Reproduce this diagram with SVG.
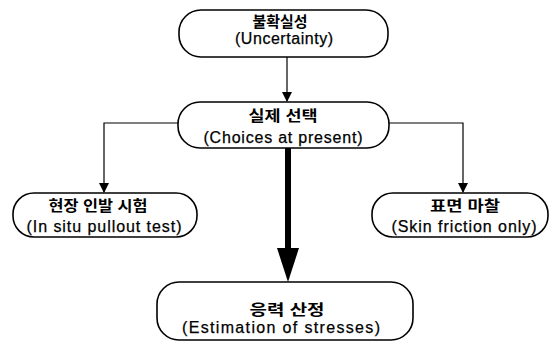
<svg xmlns="http://www.w3.org/2000/svg" width="559" height="346" viewBox="0 0 559 346">
<style>
.box{fill:#fff;stroke:#000;stroke-width:1.6}
.t{font-family:"Liberation Sans","Noto Sans CJK KR",sans-serif;font-size:16px;fill:#000;text-anchor:middle;stroke:#000;stroke-width:0.25}
.k{font-weight:bold;font-size:15px;stroke-width:0}
.ln{stroke:#000;stroke-width:1.2;fill:none}
</style>
<defs>
<marker id="ah" markerWidth="10" markerHeight="10" refX="9" refY="5" orient="auto" markerUnits="userSpaceOnUse">
<path d="M0,0 L10,5 L0,10 Z" fill="#000"/>
</marker>
</defs>
<g id="connectors">
<line class="ln" x1="287" y1="57" x2="287" y2="101" marker-end="url(#ah)"/>
<polyline class="ln" points="178,123 104,123 104,192" marker-end="url(#ah)"/>
<polyline class="ln" points="389,123 463,123 463,192" marker-end="url(#ah)"/>
<line x1="288" y1="148" x2="288" y2="250" stroke="#000" stroke-width="6"/>
<path d="M277,248 L299,248 L288,282 Z" fill="#000"/>
</g>
<g id="n1">
<rect class="box" x="179" y="10" width="209" height="47" rx="22"/>
<text class="t k" x="280" y="27" textLength="55" lengthAdjust="spacingAndGlyphs">불확실성</text>
<text class="t" x="284" y="44" textLength="98" lengthAdjust="spacing">(Uncertainty)</text>
</g>
<g id="n2">
<rect class="box" x="178" y="102" width="211" height="46" rx="22"/>
<text class="t k" x="283" y="121" textLength="69" lengthAdjust="spacingAndGlyphs">실제 선택</text>
<text class="t" x="283" y="143" textLength="159" lengthAdjust="spacing">(Choices at present)</text>
</g>
<g id="n3">
<rect class="box" x="13" y="193" width="184" height="44" rx="21"/>
<text class="t k" x="98" y="211" textLength="99" lengthAdjust="spacingAndGlyphs">현장 인발 시험</text>
<text class="t" x="104" y="232" textLength="155" lengthAdjust="spacing">(In situ pullout test)</text>
</g>
<g id="n4">
<rect class="box" x="372" y="193" width="176" height="44" rx="21"/>
<text class="t k" x="465" y="211" textLength="70" lengthAdjust="spacingAndGlyphs">표면 마찰</text>
<text class="t" x="464" y="232" textLength="145" lengthAdjust="spacing">(Skin friction only)</text>
</g>
<g id="n5">
<rect class="box" x="157" y="282" width="256" height="58" rx="22"/>
<text class="t k" x="287" y="315" textLength="75" lengthAdjust="spacingAndGlyphs">응력 산정</text>
<text class="t" x="281" y="333" textLength="198" lengthAdjust="spacing">(Estimation of stresses)</text>
</g>
</svg>
